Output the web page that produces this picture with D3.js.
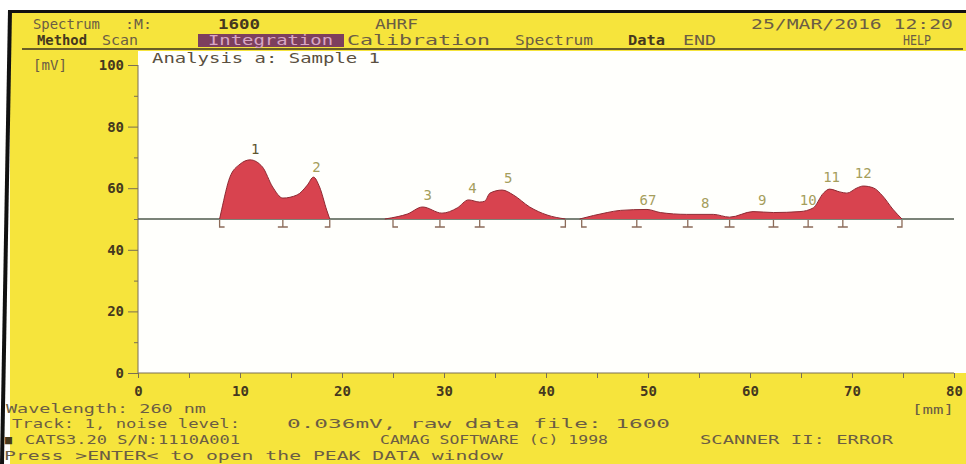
<!DOCTYPE html>
<html>
<head>
<meta charset="utf-8">
<title>CATS scan - Integration</title>
<script src="https://d3js.org/d3.v7.min.js"></script>
<style>
  body { margin: 0; background: #fff; }
  svg { display: block; }
  text { font-family: "DejaVu Sans Mono", "Liberation Mono", monospace; }
</style>
</head>
<body>
<div id="chart"></div>
<script>
// scan trace, three integrated segments (position in mm, signal in mV)
var seg1Mm = [8.0, 8.2, 9.0, 10.0, 11.0, 12.2, 13.2, 14.2, 15.6, 16.6, 17.2, 17.8, 18.5, 18.8];
var seg1Mv = [50, 53, 63.5, 67.8, 69.2, 66.9, 60.4, 56.8, 57.8, 61.0, 63.6, 60.4, 52.9, 50];
var seg2Mm = [24.2, 25.5, 26.4, 27.9, 29.8, 31.3, 32.4, 33.5, 34.0, 34.5, 35.7, 36.8, 38.4, 40.1, 41.9];
var seg2Mv = [50, 50.8, 51.6, 53.9, 51.9, 53.6, 56.2, 55.5, 55.8, 58.4, 59.4, 57.8, 53.9, 51.3, 50];
var seg3Mm = [43.3, 46.0, 47.3, 49.9, 51.2, 53.8, 56.4, 58.0, 60.3, 62.3, 64.9, 66.2, 67.2, 67.8, 68.8, 69.5, 70.5, 71.1, 72.1, 73.0, 74.0, 74.9];
var seg3Mv = [50, 52.1, 52.8, 53.1, 52.1, 51.5, 51.5, 50.6, 52.4, 52.1, 52.4, 53.6, 58.4, 59.7, 58.8, 58.4, 60.1, 60.7, 60.1, 57.5, 53.2, 50];
var baselineMv = 50;

// peak numbers
var peakNames = ["1", "2", "3", "4", "5", "67", "8", "9", "10", "11", "12"];
var peakNameMm = [11.5, 17.5, 28.4, 32.8, 36.3, 50.0, 55.6, 61.2, 65.7, 68.0, 71.1];
var peakNameMv = [71.1, 65.3, 56.2, 58.4, 61.7, 54.5, 53.6, 54.5, 54.5, 62.0, 63.3];

// integration boundary marks: L = start, T = split, J = end
var markMm = [8.0, 14.2, 18.8, 25.0, 29.6, 33.5, 41.9, 43.5, 48.9, 53.9, 58.0, 62.3, 65.7, 69.1, 74.9];
var markType = ["L", "T", "J", "L", "T", "T", "J", "L", "T", "T", "T", "T", "T", "T", "J"];

var xTicks = [0, 5, 10, 15, 20, 25, 30, 35, 40, 45, 50, 55, 60, 65, 70, 75, 80];
var xLabels = [0, 10, 20, 30, 40, 50, 60, 70, 80];
var yTicks = [0, 10, 20, 30, 40, 50, 60, 70, 80, 90, 100];
var yLabels = [0, 20, 40, 60, 80, 100];

var W = 966, H = 464;
var ink = "#6b5d44", inkDark = "#45381f";

var svg = d3.select("#chart").append("svg")
  .attr("width", W).attr("height", H);

// screen frame
svg.append("rect").attr("x", 10).attr("y", 13).attr("width", W - 10).attr("height", H - 13).attr("fill", "#f6e43c");
svg.append("rect").attr("x", 8).attr("y", 10).attr("width", W - 8).attr("height", 3).attr("fill", "#111");
svg.append("path").attr("d", "M8,10 L12,10 L4,464 L0,464 Z").attr("fill", "#111");

var x = d3.scaleLinear().domain([0, 80]).range([138, 954]);
var y = d3.scaleLinear().domain([0, 100]).range([373, 65]);

// plot window
svg.append("rect").attr("x", 138).attr("y", 51).attr("width", W - 138).attr("height", 322).attr("fill", "#fffffc");

function txt(s, px, py, len, opt) {
  opt = opt || {};
  var t = svg.append("text")
    .attr("x", px).attr("y", py)
    .attr("font-size", opt.size || 14)
    .attr("fill", opt.fill || ink)
    .attr("font-weight", opt.bold ? "bold" : "normal")
    .text(s);
  if (len) t.attr("textLength", len).attr("lengthAdjust", "spacingAndGlyphs");
  return t;
}

// header
txt("Spectrum", 33, 29, 67);
txt(":M:", 125, 29, 27);
txt("1600", 218, 29, 42, {bold: true, fill: inkDark});
txt("AHRF", 375, 29, 43);
txt("25/MAR/2016 12:20", 751, 29, 202);

svg.append("rect").attr("x", 198).attr("y", 34).attr("width", 146).attr("height", 13).attr("fill", "#7d3f5e");
txt("Method", 37, 45, 50, {bold: true, fill: inkDark});
txt("Scan", 102, 45, 36);
txt("Integration", 208, 45, 125, {fill: "#d9a6c4"});
txt("Calibration", 347, 45, 143);
txt("Spectrum", 515, 45, 78);
txt("Data", 628, 45, 37, {bold: true, fill: inkDark});
txt("END", 683, 45, 33);
txt("HELP", 903, 45, 28);
svg.append("line").attr("x1", 22).attr("x2", 963).attr("y1", 49).attr("y2", 49)
  .attr("stroke", "#3a3020").attr("stroke-width", 1.5);

txt("Analysis a: Sample 1", 152, 63, 228, {fill: "#5a5040"});

// y axis
var yAxis = d3.axisLeft(y).tickValues(yTicks).tickSize(4)
  .tickFormat(function(d) { return yLabels.indexOf(d) >= 0 ? d : ""; });
var gy = svg.append("g").attr("transform", "translate(138,0)").call(yAxis);
gy.select(".domain").remove();
gy.selectAll(".tick line").attr("stroke", "#7a6e55")
  .attr("x2", function(d) { return yLabels.indexOf(d) >= 0 ? -10 : -4; });
gy.selectAll(".tick text").attr("x", -14).attr("font-size", 14).attr("font-weight", "bold")
  .attr("fill", inkDark).attr("font-family", "DejaVu Sans Mono, monospace");
svg.append("line").attr("x1", 138).attr("x2", 138).attr("y1", y(100)).attr("y2", y(0))
  .attr("stroke", "#7a6e55");
txt("[mV]", 33, y(100) + 5, 34);

// x axis
var xAxis = d3.axisBottom(x).tickValues(xTicks).tickSize(5).tickPadding(8)
  .tickFormat(function(d) { return xLabels.indexOf(d) >= 0 ? d : ""; });
var gx = svg.append("g").attr("transform", "translate(0," + y(0) + ")").call(xAxis);
gx.select(".domain").attr("stroke", "#7a6e55").attr("d", "M" + x(0) + ",0H" + x(80));
gx.selectAll(".tick line").attr("stroke", "#7a6e55");
gx.selectAll(".tick text").attr("font-size", 14).attr("font-weight", "bold")
  .attr("fill", inkDark).attr("font-family", "DejaVu Sans Mono, monospace");
txt("[mm]", 912, 414, 42, {size: 13});

// baseline
svg.append("line").attr("x1", x(0)).attr("x2", x(80)).attr("y1", y(baselineMv)).attr("y2", y(baselineMv))
  .attr("stroke", "#4f5a4c").attr("stroke-width", 1.3);

// integrated areas
var area = d3.area()
  .x(function(d) { return x(d[0]); })
  .y0(y(baselineMv))
  .y1(function(d) { return y(d[1]); })
  .curve(d3.curveMonotoneX);
var line = area.lineY1();

[[seg1Mm, seg1Mv], [seg2Mm, seg2Mv], [seg3Mm, seg3Mv]].forEach(function(s) {
  var pts = d3.zip(s[0], s[1]);
  svg.append("path").attr("d", area(pts)).attr("fill", "#d8434f");
  svg.append("path").attr("d", line(pts)).attr("fill", "none")
    .attr("stroke", "#8e2a33").attr("stroke-width", 1);
});

// boundary marks
svg.append("g").selectAll("path").data(markMm).enter().append("path")
  .attr("d", function(d, i) {
    var px = x(d), y0 = y(baselineMv) + 1, y1 = y(baselineMv) + 8;
    var t = markType[i];
    if (t === "L") return "M" + px + "," + y0 + "V" + y1 + "H" + (px + 5);
    if (t === "J") return "M" + px + "," + y0 + "V" + y1 + "H" + (px - 5);
    return "M" + px + "," + y0 + "V" + y1 + "M" + (px - 5) + "," + y1 + "H" + (px + 5);
  })
  .attr("fill", "none").attr("stroke", "#8c6b58").attr("stroke-width", 1.3);

// peak numbers
svg.append("g").selectAll("text").data(peakNames).enter().append("text")
  .attr("x", function(d, i) { return x(peakNameMm[i]); })
  .attr("y", function(d, i) { return y(peakNameMv[i]); })
  .attr("text-anchor", "middle")
  .attr("font-size", 14)
  .attr("fill", function(d, i) { return i === 0 ? "#5e5630" : "#a59e5c"; })
  .text(function(d) { return d; });

// status lines
txt("Wavelength: 260 nm", 6, 413, 200, {size: 13});
txt("Track:  1, noise level:", 12, 428, 228, {size: 13});
txt("0.036mV, raw data file: 1600", 287, 428, 383, {size: 13});
txt("\u25a0", 5, 444, 7, {size: 12, fill: inkDark});
txt("CATS3.20 S/N:1110A001", 25, 444, 215, {size: 13});
txt("CAMAG SOFTWARE (c) 1998", 380, 444, 228, {size: 13});
txt("SCANNER II: ERROR", 700, 444, 193, {size: 13});
txt("Press >ENTER< to open the PEAK DATA window", 4, 460, 499, {size: 13});
</script>
</body>
</html>
